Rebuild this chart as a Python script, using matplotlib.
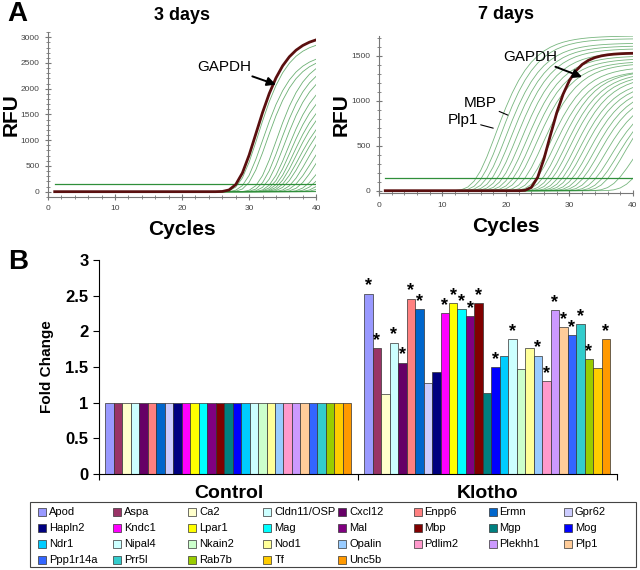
import numpy as np
import matplotlib
matplotlib.use("Agg")
import matplotlib.pyplot as plt
from matplotlib.patches import Rectangle
from matplotlib.ticker import MultipleLocator

plt.rcParams['font.family'] = ['Liberation Sans', 'DejaVu Sans']

# ---------------- Data ----------------
genes = ["Apod", "Aspa", "Ca2", "Cldn11/OSP", "Cxcl12", "Enpp6", "Ermn", "Gpr62",
         "Hapln2", "Kndc1", "Lpar1", "Mag", "Mal", "Mbp", "Mgp", "Mog",
         "Ndr1", "Nipal4", "Nkain2", "Nod1", "Opalin", "Pdlim2", "Plekhh1", "Plp1",
         "Ppp1r14a", "Prr5l", "Rab7b", "Tf", "Unc5b"]
colors = ["#9999FF", "#993366", "#FFFFCC", "#CCFFFF", "#660066", "#FF8080", "#0066CC", "#CCCCFF",
          "#000080", "#FF00FF", "#FFFF00", "#00FFFF", "#800080", "#800000", "#008080", "#0000FF",
          "#00CCFF", "#CCFFFF", "#CCFFCC", "#FFFF99", "#99CCFF", "#FF99CC", "#CC99FF", "#FFCC99",
          "#3366FF", "#33CCCC", "#99CC00", "#FFCC00", "#FF9900"]
groups = ["Control", "Klotho"]
control_fc = [1.0] * 29
klotho_fc = [2.53, 1.76, 1.12, 1.84, 1.56, 2.46, 2.31, 1.27,
             1.43, 2.25, 2.39, 2.31, 2.21, 2.39, 1.14, 1.50,
             1.66, 1.89, 1.47, 1.77, 1.66, 1.30, 2.30, 2.06,
             1.95, 2.10, 1.61, 1.48, 1.89]
klotho_sig = [1, 1, 0, 1, 1, 1, 1, 0,
              0, 1, 1, 1, 1, 1, 0, 1,
              0, 1, 0, 0, 1, 1, 1, 1,
              1, 1, 1, 0, 1]

# amplification curves: inflection cycle and plateau RFU
cycles = np.arange(1, 41)
gapdh3 = (31.0, 3050, 0.377)
t0_3 = [31.3, 32.0, 32.6, 34.0, 34.6, 35.2, 35.8, 36.2, 36.6, 37.0, 37.4, 37.9,
        38.6, 39.2, 40.0, 40.8, 41.5, 42.3, 43.0, 44.0, 45.0, 46.0]
plat3 = [2950, 2700, 2650, 2650, 2550, 2450, 2300, 2150, 2000, 1900, 1750, 1700,
         1650, 1500, 1500, 1300, 1200, 1100, 1000, 900, 800, 700]
rate3 = 0.38
threshold3 = 150

gapdh7 = (26.8, 1530, 0.47)
t0_7 = [18.4, 19.2, 20.0, 20.8, 21.6, 22.4, 23.2, 24.0, 24.8, 25.8, 26.8, 27.6,
        28.5, 29.3, 30.0, 30.8, 31.5, 32.2, 33.0, 33.8, 34.6, 35.5, 36.5, 37.5,
        38.5, 40.0, 42.0]
plat7 = [1720, 1690, 1640, 1610, 1580, 1540, 1500, 1470, 1440, 1420, 1380, 1340,
         1340, 1320, 1300, 1280, 1240, 1210, 1180, 1150, 1120, 1080, 1050, 1050,
         1100, 950, 850]
rate7 = 0.30
threshold7 = 140


def amp(t0, plat, rate):
    return plat * np.exp(-np.exp(-rate * (cycles - t0)))


fig = plt.figure(figsize=(6.4, 5.7), dpi=100)

green = "#2f8f3a"
gapdh_c = "#5a0f0f"


def style_qpcr(ax, ylim, ylabelpad):
    ax.set_xlim(0, 40)
    ax.set_ylim(*ylim)
    for s in ["top", "right"]:
        ax.spines[s].set_visible(False)
    for s in ["left", "bottom"]:
        ax.spines[s].set_color("#777777")
        ax.spines[s].set_linewidth(0.8)
    ax.xaxis.set_major_locator(MultipleLocator(10))
    ax.xaxis.set_minor_locator(MultipleLocator(2))
    ax.yaxis.set_major_locator(MultipleLocator(500))
    ax.yaxis.set_minor_locator(MultipleLocator(100))
    ax.tick_params(axis="both", which="both", direction="inout", colors="#777777",
                   labelsize=6, labelcolor="#444444")
    ax.tick_params(which="major", length=5)
    ax.tick_params(which="minor", length=3)
    ax.set_xlabel("Cycles", fontsize=15, fontweight="bold", labelpad=6)
    ax.set_ylabel("RFU", fontsize=15, fontweight="bold", labelpad=ylabelpad)


# Panel A left
ax1 = fig.add_axes([0.075, 0.6547, 0.419, 0.289])
for t, p in zip(t0_3, plat3):
    ax1.plot(cycles, amp(t, p, rate3), color=green, lw=0.6, alpha=0.7)
ax1.plot([1, 40], [threshold3, threshold3], color=green, lw=0.9)
ax1.plot(cycles, amp(*gapdh3), color=gapdh_c, lw=2.0)
style_qpcr(ax1, (-100, 3100), 0)
ax1.set_title("3 days", fontsize=13, fontweight="bold", pad=9)
ax1.annotate("GAPDH", xy=(34.0, 2080), xytext=(26.3, 2430), fontsize=11,
             ha="center", va="center",
             arrowprops=dict(arrowstyle="-|>", color="black", lw=1.4, mutation_scale=13,
                             shrinkA=22, shrinkB=0))

# Panel A right
ax2 = fig.add_axes([0.592, 0.6607, 0.397, 0.2763])
for t, p in zip(t0_7, plat7):
    ax2.plot(cycles, amp(t, p, rate7), color=green, lw=0.6, alpha=0.65)
ax2.plot([1, 40], [threshold7, threshold7], color=green, lw=0.9)
ax2.plot(cycles, amp(*gapdh7), color=gapdh_c, lw=2.0)
style_qpcr(ax2, (-30, 1720), 1)
ax2.set_title("7 days", fontsize=13, fontweight="bold", pad=12)
ax2.annotate("GAPDH", xy=(32.0, 1263), xytext=(23.8, 1486), fontsize=11,
             ha="center", va="center",
             arrowprops=dict(arrowstyle="-|>", color="black", lw=1.4, mutation_scale=13,
                             shrinkA=22, shrinkB=0))
ax2.annotate("MBP", xy=(20.3, 840), xytext=(15.9, 973), fontsize=11,
             ha="center", va="center",
             arrowprops=dict(arrowstyle="-", color="black", lw=0.8, shrinkA=10, shrinkB=0))
ax2.annotate("Plp1", xy=(18.0, 695), xytext=(13.2, 785), fontsize=11,
             ha="center", va="center",
             arrowprops=dict(arrowstyle="-", color="black", lw=0.8, shrinkA=12, shrinkB=0))

fig.text(0.012, 0.975, "A", fontsize=20, fontweight="bold", va="center")
fig.text(0.012, 0.54, "B", fontsize=20, fontweight="bold", va="center")

# Panel B
axb = fig.add_axes([0.1547, 0.1684, 0.8086, 0.3755])
n = len(genes)
gw = 0.95
bw = gw / n
for gi, vals in enumerate([control_fc, klotho_fc]):
    x0 = gi + (1 - gw) / 2
    xs = x0 + bw * (np.arange(n) + 0.5)
    axb.bar(xs, vals, width=bw, color=colors, edgecolor="#333333", linewidth=0.5)
    if gi == 1:
        for x, v, s in zip(xs, vals, klotho_sig):
            if s:
                axb.text(x, v - 0.01, "*", ha="center", va="bottom", fontsize=13,
                         fontweight="bold")
axb.set_xlim(0, 2)
axb.set_ylim(0, 3)
axb.set_xticks([0, 1, 2])
axb.set_xticklabels([])
axb.set_xticks([0.5, 1.5], minor=True)
axb.set_xticklabels(groups, minor=True, fontsize=14, fontweight="bold")
axb.tick_params(axis="x", which="minor", length=0, pad=8)
axb.tick_params(axis="x", which="major", length=4, direction="out")
axb.set_yticks([0, 0.5, 1, 1.5, 2, 2.5, 3])
axb.set_yticklabels(["0", "0.5", "1", "1.5", "2", "2.5", "3"], fontsize=12, fontweight="bold")
axb.tick_params(axis="y", length=4, direction="out")
for s in ["top", "right"]:
    axb.spines[s].set_visible(False)
axb.set_ylabel("Fold Change", fontsize=11, fontweight="bold", labelpad=8)

# Legend (Excel-style grid, row-major, 8 columns)
W, H = 640.0, 570.0
box_l, box_r, box_t, box_b = 30, 636, 502, 567
fig.patches.append(Rectangle((box_l / W, 1 - box_b / H), (box_r - box_l) / W,
                             (box_b - box_t) / H, transform=fig.transFigure,
                             facecolor="white", edgecolor="#444444", linewidth=0.8))
ncol = 8
col_x0, col_dx = 38, 75.1
row_y0, row_dy = 512, 16
sw = 8
for i, (g, c) in enumerate(zip(genes, colors)):
    r, k = divmod(i, ncol)
    x = col_x0 + k * col_dx
    y = row_y0 + r * row_dy
    fig.patches.append(Rectangle((x / W, 1 - (y + sw / 2) / H), sw / W, sw / H,
                                 transform=fig.transFigure, facecolor=c,
                                 edgecolor="#333333", linewidth=0.5))
    fig.text((x + sw + 3) / W, 1 - y / H, g, fontsize=8, va="center", ha="left")

fig.savefig("out.png", dpi=100)
